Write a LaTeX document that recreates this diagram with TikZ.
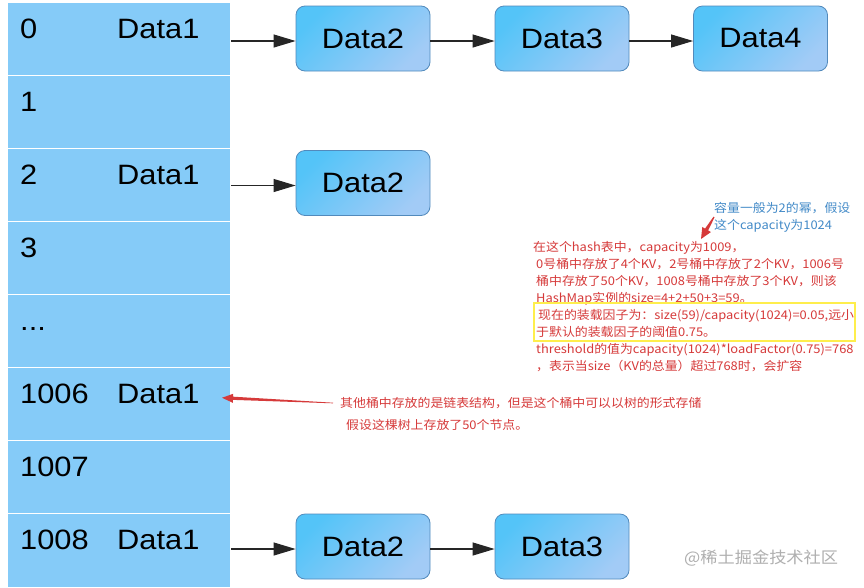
\documentclass[tikz,border=0pt]{standalone}
\usepackage{fontspec}
\setmainfont{Liberation Sans}[FakeStretch=1.1]
\newfontfamily\cjk{Noto Sans CJK SC}[FakeStretch=1.075]
\usetikzlibrary{arrows.meta,calc}
\definecolor{tablecol}{RGB}{133,203,248}
\definecolor{boxA}{RGB}{84,196,248}
\definecolor{boxB}{RGB}{162,203,246}
\definecolor{boxline}{RGB}{82,138,188}
\definecolor{notered}{RGB}{214,58,58}
\definecolor{noteblue}{RGB}{66,138,200}
\definecolor{wmgray}{RGB}{175,175,175}
\tikzset{
  rowbox/.style={fill=tablecol, minimum width=222pt, minimum height=71.5pt, inner sep=0pt, outer sep=0pt},
  lastrow/.style={rowbox, minimum height=73pt},
  cell/.style={anchor=base west, inner sep=0pt, font=\fontsize{28}{30}\selectfont},
  databox/.style={draw=boxline, line width=0.8pt, rounded corners=9pt, minimum width=134pt, minimum height=65pt,
    top color=boxA, bottom color=boxB, shading angle=45, inner sep=0pt, font=\fontsize{28}{30}\selectfont},
  link/.style={draw=black!85, line width=1.1pt, -{Triangle[length=22pt,width=13pt]}},
  note/.style={anchor=west, inner sep=0pt, text height=10pt, text depth=1pt, text=notered, font=\cjk\fontsize{12}{14}\selectfont},
  bluenote/.style={note, text=noteblue},
  redtaper/.style={fill=notered, draw=none},
}
\begin{document}
\begin{tikzpicture}[x=1pt,y=-1pt]
\useasboundingbox[fill=white] (0,0) rectangle (864,587);
% table rows
\node[rowbox] (r0) at (119,38.75) {};
\node[rowbox] (r1) at (119,111.75) {};
\node[rowbox] (r2) at (119,184.75) {};
\node[rowbox] (r3) at (119,257.75) {};
\node[rowbox] (r4) at (119,330.75) {};
\node[rowbox] (r5) at (119,403.75) {};
\node[rowbox] (r6) at (119,476.75) {};
\node[lastrow] (r7) at (119,550.5) {};
% row labels (baseline = row top + 35)
\node[cell] (k0) at (20,38) {0};
\node[cell] (v0) at (117,38) {Data1};
\node[cell] (k1) at (20,111) {1};
\node[cell] (k2) at (20,184) {2};
\node[cell] (v2) at (117,184) {Data1};
\node[cell] (k3) at (20,257) {3};
\node[cell] (k4) at (20,330) {...};
\node[cell] (k5) at (20,403) {1006};
\node[cell] (v5) at (117,403) {Data1};
\node[cell] (k6) at (20,476) {1007};
\node[cell] (k7) at (20,549) {1008};
\node[cell] (v7) at (117,549) {Data1};
% data boxes
\node[databox] (a2) at (363,38.5) {Data2};
\node[databox] (a3) at (562,38.5) {Data3};
\node[databox] (a4) at (760.5,38.5) {Data4};
\node[databox] (c2) at (363,183) {Data2};
\node[databox] (e2) at (363,546.5) {Data2};
\node[databox] (e3) at (562,546.5) {Data3};
% links
\coordinate (pa) at ([yshift=-2.5pt]a2.west);
\coordinate (pc) at ([yshift=-2.5pt]c2.west);
\coordinate (pe) at ([yshift=-2.5pt]e2.west);
\draw[link] ([xshift=1pt]r0.east |- pa) -- (pa);
\draw[link] ([yshift=-2.5pt]a2.east) -- ([yshift=-2.5pt]a3.west);
\draw[link] ([yshift=-2.5pt]a3.east) -- ([yshift=-2.5pt]a4.west);
\draw[link] ([xshift=1pt]r2.east |- pc) -- (pc);
\draw[link] ([xshift=1pt]r7.east |- pe) -- (pe);
\draw[link] ([yshift=-2.5pt]e2.east) -- ([yshift=-2.5pt]e3.west);
% notes
\node[bluenote] (b1) at (714,208) {容量一般为2的幂，假设};
\node[bluenote] (b2) at (714,225) {这个capacity为1024};
\node[note] (n1) at (533,247) {在这个hash表中，capacity为1009，};
\node[note] (n2) at (536,264) {0号桶中存放了4个KV，2号桶中存放了2个KV，1006号};
\node[note] (n3) at (536,281) {桶中存放了50个KV，1008号桶中存放了3个KV，则该};
\node[note] (n4) at (536,298) {HashMap实例的size=4+2+50+3=59。};
\node[note] (n5) at (538,315) {现在的装载因子为：size(59)/capacity(1024)=0.05,远小};
\node[note] (n6) at (536,332) {于默认的装载因子的阈值0.75。};
\node[note] (n7) at (536,349) {threshold的值为capacity(1024)*loadFactor(0.75)=768};
\node[note] (n8) at (536,366) {，表示当size（KV的总量）超过768时，会扩容};
\draw[yellow!90!orange!70, line width=2pt] (534,303) rectangle (855,341);
\node[note] (t1) at (340,403) {其他桶中存放的是链表结构，但是这个桶中可以以树的形式存储};
\node[note] (t2) at (346,425) {假设这棵树上存放了50个节点。};
\node[anchor=west, inner sep=0pt, text=wmgray, font=\cjk\fontsize{16}{18}\selectfont] (wm) at (684,558) {@稀土掘金技术社区};
% tapered red arrows
\coordinate (tailA) at ([xshift=-7pt]t1.west);
\coordinate (tipA) at ([xshift=-8pt,yshift=6pt]r5.east);
\coordinate (hA) at ($(tipA)!11pt!(tailA)$);
\fill[redtaper] (tipA) -- ($(hA)!4.5pt!90:(tailA)$) -- ($(hA)!1.6pt!90:(tailA)$) -- ($(tailA)!0.3pt!-90:(hA)$)
  -- ($(tailA)!0.3pt!90:(hA)$) -- ($(hA)!1.6pt!-90:(tailA)$) -- ($(hA)!4.5pt!-90:(tailA)$) -- cycle;
\coordinate (tailB) at ([yshift=-9pt]b1.west);
\coordinate (tipB) at ([xshift=-13pt,yshift=-31pt]b1.west);
\coordinate (hB) at ($(tipB)!11pt!(tailB)$);
\fill[redtaper] (tipB) -- ($(hB)!5pt!90:(tailB)$) -- ($(hB)!1.8pt!90:(tailB)$) -- ($(tailB)!0.6pt!-90:(hB)$)
  -- ($(tailB)!0.6pt!90:(hB)$) -- ($(hB)!1.8pt!-90:(tailB)$) -- ($(hB)!5pt!-90:(tailB)$) -- cycle;
\end{tikzpicture}
\end{document}
